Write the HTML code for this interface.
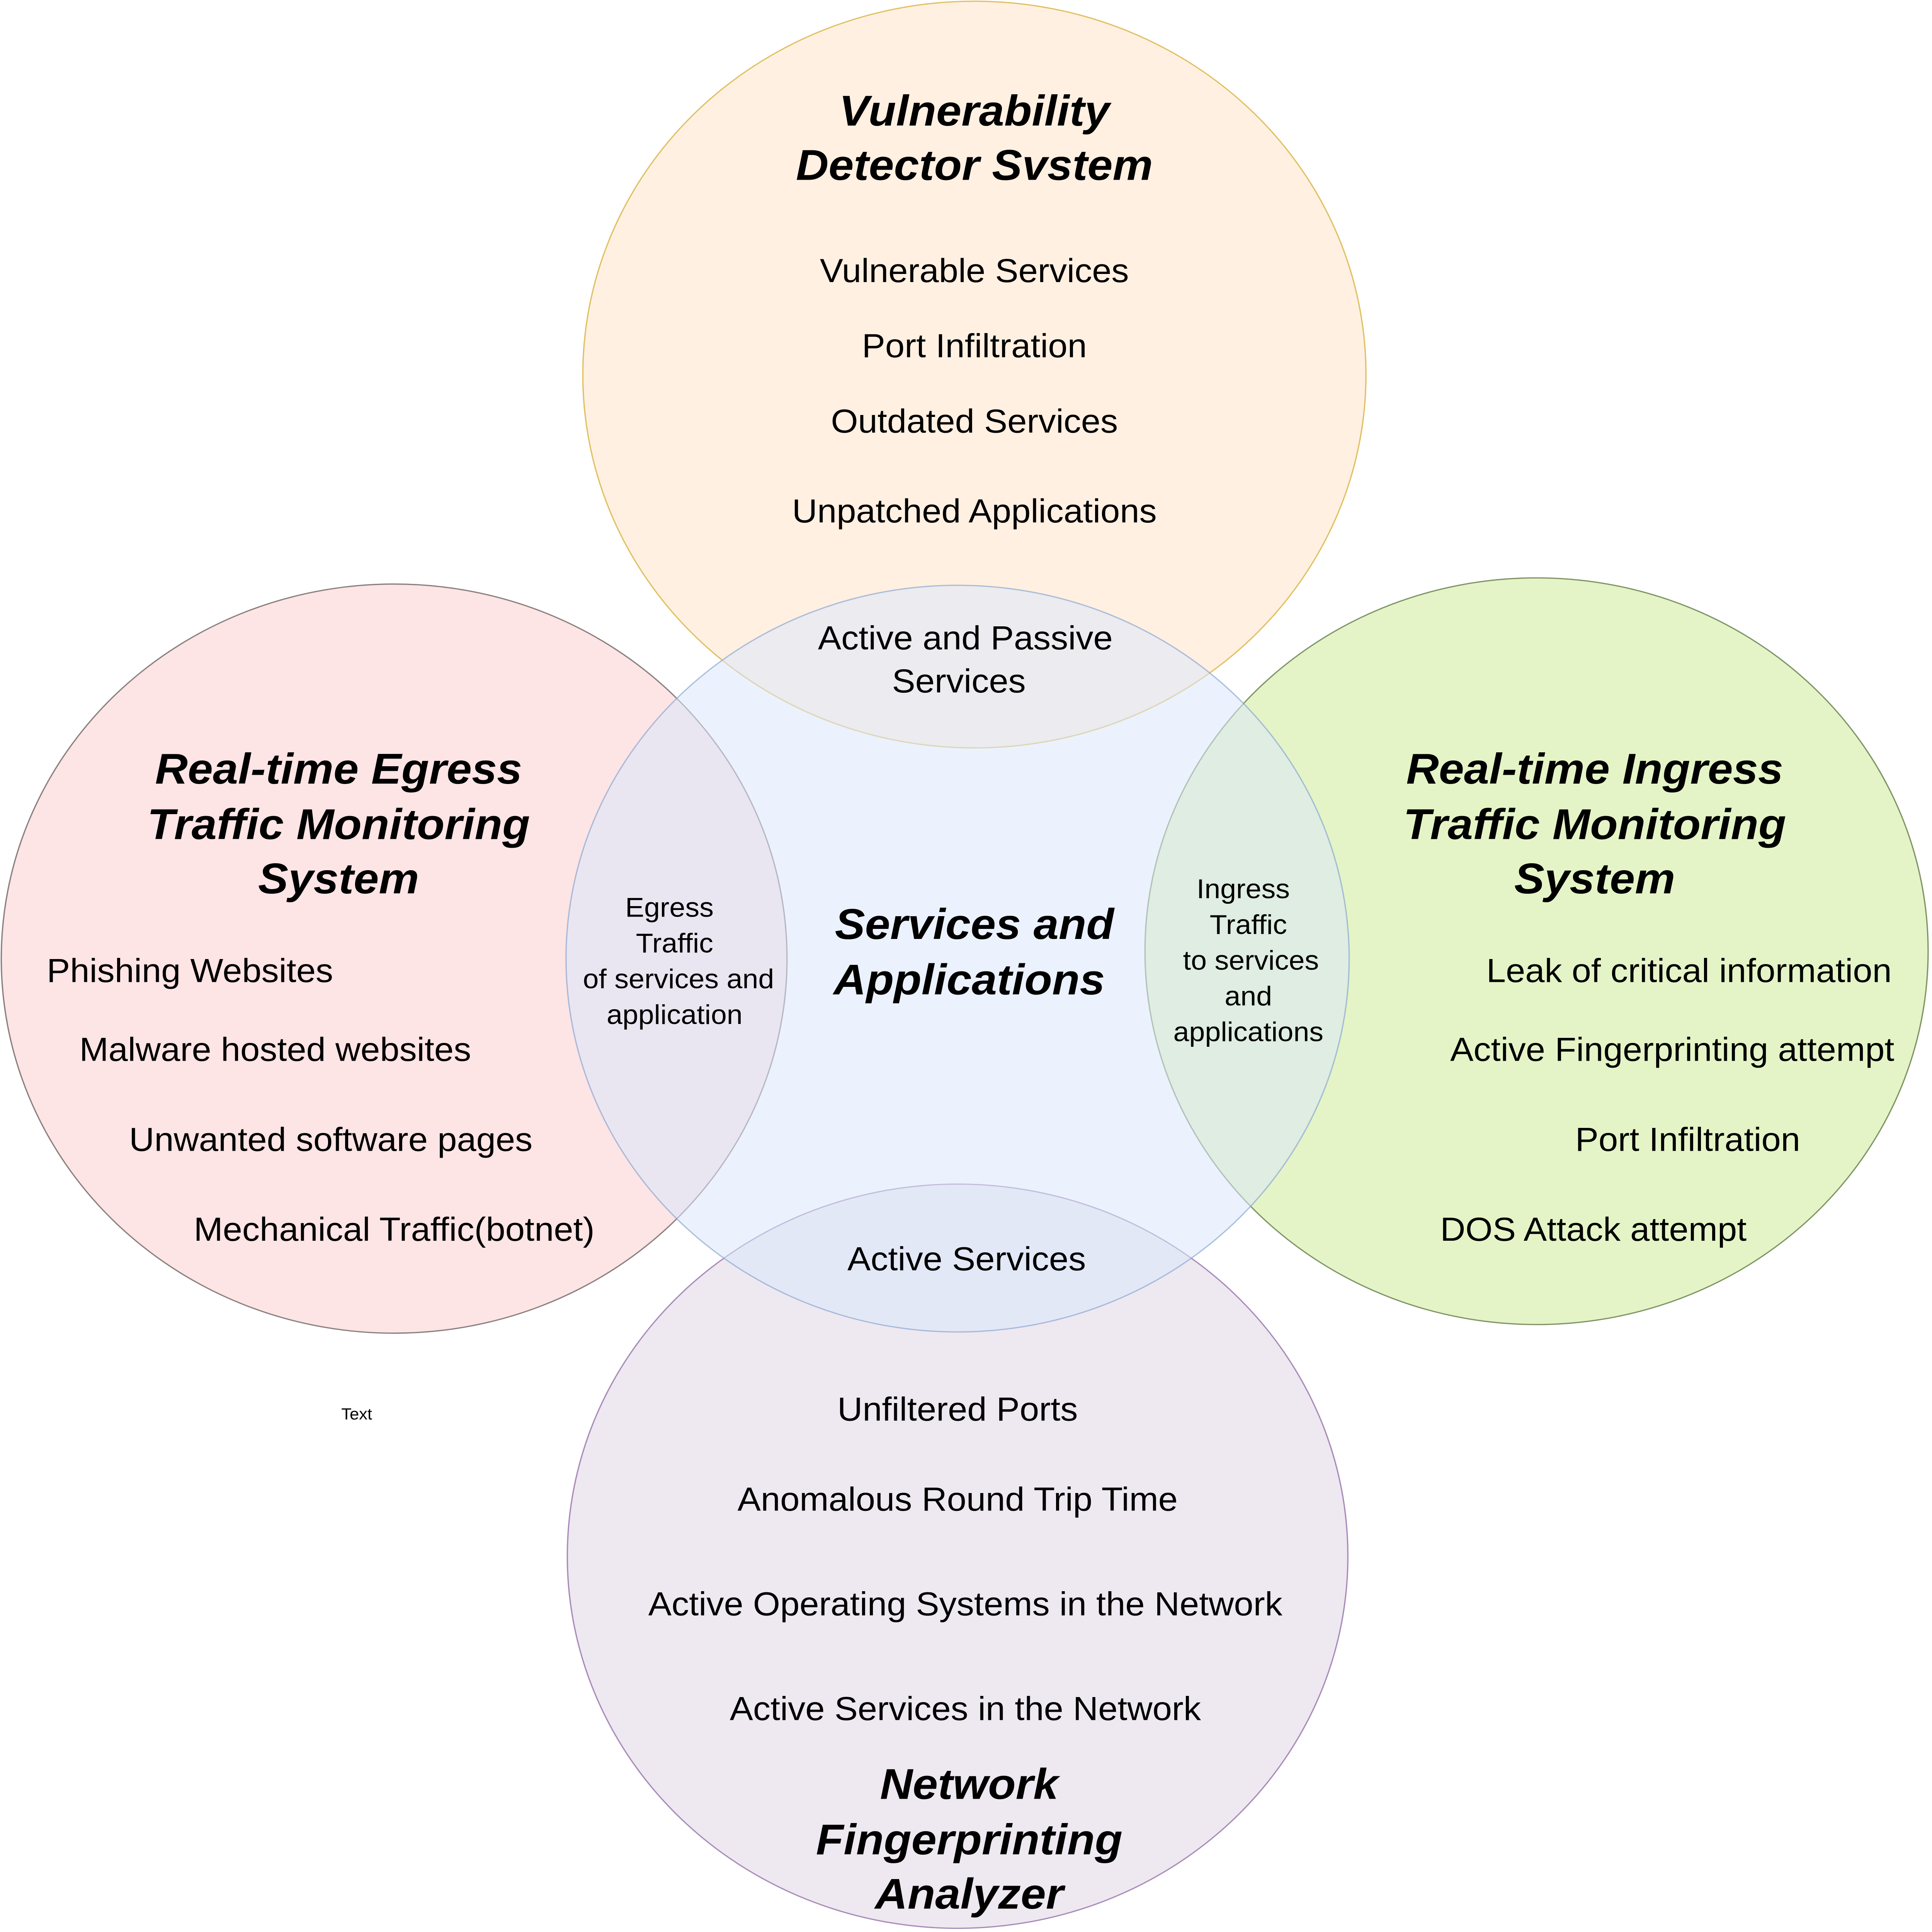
<!DOCTYPE html>
<html><head><meta charset="utf-8"><style>html,body{margin:0;padding:0;background:#fff;width:100%;height:100%;overflow:hidden}svg{display:block;position:absolute;left:0;top:0;width:100vw;height:100vh}</style></head>
<body>
<svg viewBox="0 0 1495 1568" preserveAspectRatio="none" xmlns="http://www.w3.org/2000/svg" font-family="Liberation Sans, Arial, sans-serif">
<circle cx="754" cy="304" r="303" fill="#fff0e2" stroke="#e0c060" stroke-width="1"/>
<circle cx="305" cy="778" r="304" fill="#fde4e5" stroke="#8a7f7f" stroke-width="1"/>
<circle cx="1189" cy="772" r="303" fill="#e4f4c6" stroke="#7f9466" stroke-width="1"/>
<circle cx="741" cy="1263" r="302" fill="#eee8f1" stroke="#a88bb8" stroke-width="1"/>
<circle cx="741" cy="778" r="303" fill="#dae8fc" fill-opacity="0.55" stroke="#8aa6d0" stroke-width="1" stroke-opacity="0.7"/>
<g font-weight="bold" font-style="italic" font-size="35" text-anchor="middle" fill="#000">
<text x="754" y="102">Vulnerability</text><text x="754" y="146">Detector Svstem</text>
<text x="262" y="636">Real-time Egress</text><text x="262" y="681">Traffic Monitoring</text><text x="262" y="725">System</text>
<text x="1234" y="636">Real-time Ingress</text><text x="1234" y="681">Traffic Monitoring</text><text x="1234" y="725">System</text>
<text x="754" y="762">Services and</text><text x="750" y="807">Applications</text>
<text x="750" y="1460">Network</text><text x="750" y="1505">Fingerprinting</text><text x="750" y="1549">Analyzer</text>
</g>
<g font-size="27" fill="#000" text-anchor="middle">
<text x="754" y="229">Vulnerable Services</text>
<text x="754" y="290">Port Infiltration</text>
<text x="754" y="351">Outdated Services</text>
<text x="754" y="424">Unpatched Applications</text>
<text x="747" y="527">Active and Passive</text><text x="742" y="562">Services</text>
<text x="147" y="797">Phishing Websites</text>
<text x="213" y="861">Malware hosted websites</text>
<text x="256" y="934">Unwanted software pages</text>
<text x="305" y="1007">Mechanical Traffic(botnet)</text>
<text x="1307" y="797">Leak of critical information</text>
<text x="1294" y="861">Active Fingerprinting attempt</text>
<text x="1306" y="934">Port Infiltration</text>
<text x="1233" y="1007">DOS Attack attempt</text>
<text x="748" y="1031">Active Services</text>
<text x="741" y="1153">Unfiltered Ports</text>
<text x="741" y="1226">Anomalous Round Trip Time</text>
<text x="747" y="1311">Active Operating Systems in the Network</text>
<text x="747" y="1396">Active Services in the Network</text>
</g>
<g font-size="22" fill="#000" text-anchor="middle">
<text x="518" y="744">Egress</text><text x="522" y="773">Traffic</text><text x="525" y="802">of services and</text><text x="522" y="831">application</text>
<text x="962" y="729">Ingress</text><text x="966" y="758">Traffic</text><text x="968" y="787">to services</text><text x="966" y="816">and</text><text x="966" y="845">applications</text>
</g>
<text x="276" y="1152" font-size="13" text-anchor="middle" fill="#000">Text</text>
</svg>
</body></html>
